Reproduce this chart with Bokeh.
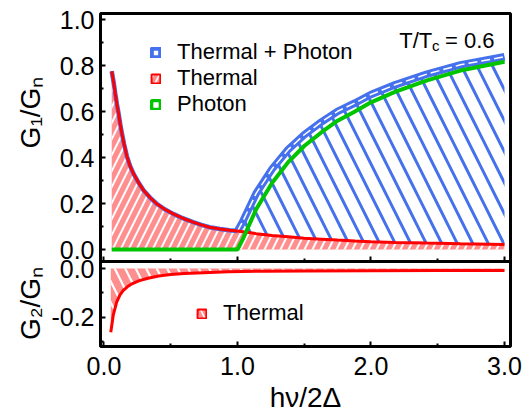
import math

from bokeh.plotting import figure
from bokeh.layouts import row
from bokeh.models import (Range1d, LinearAxis, FixedTicker, PrintfTickFormatter,
                          Label, Legend, LegendItem, Title, ColumnDataSource)
from bokeh.embed import file_html
from bokeh.resources import INLINE

# photon energy h*nu / 2*Delta
x = [0.058, 0.073, 0.085, 0.097, 0.11, 0.122, 0.135, 0.15, 0.172, 0.195,
     0.222, 0.26, 0.296, 0.345, 0.395, 0.455, 0.519, 0.59, 0.668, 0.73,
     0.79, 0.87, 0.94, 1.00, 1.04, 1.14, 1.26, 1.38, 1.50, 1.63, 1.75,
     1.88, 2.00, 2.18, 2.42, 2.67, 3.00]
# G1/Gn contributions
g1_thermal = [0.775, 0.725, 0.677, 0.632, 0.590, 0.545, 0.503, 0.460, 0.405,
              0.364, 0.329, 0.290, 0.258, 0.226, 0.199, 0.175, 0.155, 0.136,
              0.119, 0.107, 0.097, 0.089, 0.084, 0.080, 0.077, 0.069, 0.061,
              0.055, 0.049, 0.045, 0.041, 0.037, 0.034, 0.031, 0.028, 0.025,
              0.022]
g1_photon = [0.0, 0.0, 0.0, 0.0, 0.0, 0.0, 0.0, 0.0, 0.0, 0.0, 0.0, 0.0,
             0.0, 0.0, 0.0, 0.0, 0.0, 0.0, 0.0, 0.0, 0.0, 0.0, 0.0, 0.0,
             0.045, 0.175, 0.29, 0.38, 0.45, 0.51, 0.56, 0.60, 0.64, 0.685,
             0.735, 0.778, 0.816]

# G2/Gn (thermal only)
x2 = [0.051, 0.07, 0.095, 0.12, 0.145, 0.175, 0.21, 0.26, 0.33, 0.41, 0.50,
      0.60, 0.70, 0.93, 1.2, 1.5, 2.0, 2.5, 3.0]
g2_thermal = [-0.262, -0.190, -0.138, -0.108, -0.090, -0.075, -0.063, -0.051,
              -0.040, -0.031, -0.025, -0.021, -0.018, -0.013, -0.011, -0.010,
              -0.009, -0.0085, -0.008]

x_ticks = [0.0, 1.0, 2.0, 3.0]
x_minor = [0.5, 1.5, 2.5]
g1_ticks = [0.0, 0.2, 0.4, 0.6, 0.8, 1.0]
g1_minor = [0.1, 0.3, 0.5, 0.7, 0.9]
g2_ticks = [0.0, -0.2]
g2_minor = [-0.1, -0.3]

g1_total = [a + b for a, b in zip(g1_thermal, g1_photon)]
on = [i for i, v in enumerate(x) if v >= 1.0]
off = [i for i, v in enumerate(x) if v <= 1.0]
x_on = [x[i] for i in on]
th_on = [g1_thermal[i] for i in on]
tot_on = [g1_total[i] for i in on]

RED = "#ff0000"
PINK = "#ff8e8e"
BLUE = "#4571ec"
GREEN = "#00c400"
FONT = "Liberation Sans"
TICK_PX = "25px"

TOP, BOTTOM, HEIGHT = 13, 68, 414

# one frame holds both panels: the upper one on the default y range,
# the lower one on the "g2" range; the divider sits at G1 = -0.052
y_g1 = Range1d(-0.4217, 1.0261)
y_g2 = Range1d(-0.3203, 1.0472)
DIVIDER = -0.052


def g2_to_g1(v):
    """Position of a G2 value expressed on the G1 scale (for the shared left axis)."""
    frac = (v - y_g2.start) / (y_g2.end - y_g2.start)
    return y_g1.start + frac * (y_g1.end - y_g1.start)


def style(ax, labels=True):
    ax.axis_line_color = None
    ax.major_tick_in = 5
    ax.major_tick_out = 0
    ax.minor_tick_in = 3
    ax.minor_tick_out = 0
    ax.major_tick_line_width = 2
    ax.minor_tick_line_width = 2
    ax.major_tick_line_color = "black"
    ax.minor_tick_line_color = "black"
    ax.major_label_text_font = FONT
    ax.major_label_text_font_size = TICK_PX if labels else "0px"
    ax.major_label_text_color = "black" if labels else None
    ax.major_label_standoff = 6


fmt = PrintfTickFormatter(format="%.1f")

p = figure(width=482, height=HEIGHT, output_backend="svg", toolbar_location=None,
           x_range=Range1d(-0.026, 3.045), y_range=y_g1,
           x_axis_type=None, y_axis_type=None,
           min_border_left=49, min_border_right=20, min_border_top=TOP,
           min_border_bottom=BOTTOM)
p.extra_y_ranges = {"g2": y_g2}
p.outline_line_color = "black"
p.outline_line_width = 3
p.background_fill_color = "white"
p.border_fill_color = "white"

xb = LinearAxis(ticker=FixedTicker(ticks=x_ticks, minor_ticks=x_minor), formatter=fmt)
style(xb)
xb.major_label_standoff = 10
p.add_layout(xb, "below")
p.add_layout(Title(text="hν/2Δ", align="center", offset=-17, text_font=FONT,
                   text_font_size="28px", text_font_style="normal",
                   text_color="black", standoff=4), "below")

xm = LinearAxis(ticker=FixedTicker(ticks=x_ticks, minor_ticks=x_minor), formatter=fmt,
                fixed_location=DIVIDER)
style(xm, labels=False)
xm.axis_line_color = "black"
xm.axis_line_width = 3
p.add_layout(xm, "below")

g2_major_pos = [g2_to_g1(v) for v in g2_ticks]
g2_minor_pos = [g2_to_g1(v) for v in g2_minor]
yl = LinearAxis(ticker=FixedTicker(ticks=g1_ticks + g2_major_pos,
                                   minor_ticks=g1_minor + g2_minor_pos),
                formatter=fmt)
yl.major_label_overrides = {pos: "%.1f" % v for pos, v in zip(g2_major_pos, g2_ticks)}
style(yl)
p.add_layout(yl, "left")

# upper panel
p.varea(x=x, y1=0, y2=g1_thermal, fill_color=PINK, hatch_pattern="/",
        hatch_color="white", hatch_scale=16, hatch_weight=2)
p.varea(x=x_on, y1=th_on, y2=tot_on, fill_color=None, hatch_pattern="\\",
        hatch_color=BLUE, hatch_scale=31, hatch_weight=3)
p.line(x=[x[i] for i in off], y=[g1_total[i] for i in off], line_color=BLUE,
       line_width=4.5)
p.line(x=x_on, y=tot_on, line_color=BLUE, line_width=7.5)
p.line(x=x_on, y=tot_on, line_color="white", line_width=1.5, line_dash="9 4")
p.line(x=x, y=g1_thermal, line_color=RED, line_width=3)
p.line(x=x, y=g1_photon, line_color=GREEN, line_width=4)

# lower panel
p.varea(x=x2, y1=0, y2=g2_thermal, fill_color=PINK, hatch_pattern="\\",
        hatch_color="white", hatch_scale=21, hatch_weight=2.2, y_range_name="g2")
p.line(x=x2, y=g2_thermal, line_color=RED, line_width=3, y_range_name="g2")


def key(**kw):
    nan = float("nan")
    src = ColumnDataSource(data=dict(l=[nan], r=[nan], t=[nan], b=[nan]))
    return p.quad(left="l", right="r", top="t", bottom="b", source=src, **kw)


def make_legend(items, loc):
    return Legend(items=items, location=loc, glyph_width=11, glyph_height=11,
                  label_text_font=FONT, label_text_font_size="22px",
                  label_text_color="black", label_standoff=16, spacing=-2,
                  padding=0, margin=0, label_height=24, border_line_color=None,
                  background_fill_alpha=0)


k_tot = key(fill_color="white", line_color=BLUE, line_width=4.5)
k_th = key(fill_color=PINK, hatch_pattern="/", hatch_color="white",
           hatch_scale=12, hatch_weight=1.6, line_color=RED, line_width=2)
k_ph = key(fill_color="white", line_color=GREEN, line_width=3.5)
k_th2 = key(fill_color=PINK, hatch_pattern="\\", hatch_color="white",
            hatch_scale=12, hatch_weight=1.6, line_color=RED, line_width=2)

p.add_layout(make_legend([LegendItem(label="Thermal + Photon", renderers=[k_tot]),
                          LegendItem(label="Thermal", renderers=[k_th]),
                          LegendItem(label="Photon", renderers=[k_ph])], (50, 229)))
p.add_layout(make_legend([LegendItem(label="Thermal", renderers=[k_th2])], (96, 20)))

p.add_layout(Label(x=(398 - 100.5) / 134.5, y=(249 - 40) / 230, text="T/T",
                   text_font=FONT, text_font_size="22px", text_color="black",
                   text_baseline="alphabetic"))
p.add_layout(Label(x=(431 - 100.5) / 134.5, y=(249 - 45) / 230, text="c",
                   text_font=FONT, text_font_size="15px", text_color="black",
                   text_baseline="alphabetic"))
p.add_layout(Label(x=(444 - 100.5) / 134.5, y=(249 - 40) / 230, text="= 0.6",
                   text_font=FONT, text_font_size="22px", text_color="black",
                   text_baseline="alphabetic"))

# strip on the left carrying the rotated y-axis titles; its frame is aligned
# with the plot frame, and its y range runs in page pixels (top = 13)
t = figure(width=48, height=HEIGHT, output_backend="svg", toolbar_location=None,
           x_range=Range1d(0, 48), y_range=Range1d(HEIGHT - BOTTOM, TOP),
           x_axis_type=None, y_axis_type=None, min_border_left=0,
           min_border_right=0, min_border_top=TOP, min_border_bottom=BOTTOM)
t.outline_line_color = None
t.background_fill_color = "white"
t.border_fill_color = "white"
t.add_layout(Label(x=30, y=112, text="G₁/Gₙ", angle=math.pi / 2,
                   text_align="center", text_baseline="middle", text_font=FONT,
                   text_font_size="28px", text_color="black"))
t.add_layout(Label(x=30, y=303, text="G₂/Gₙ", angle=math.pi / 2,
                   text_align="center", text_baseline="middle", text_font=FONT,
                   text_font_size="28px", text_color="black"))

layout = row(t, p, spacing=0)
open("out.html", "w").write(file_html(layout, INLINE))
